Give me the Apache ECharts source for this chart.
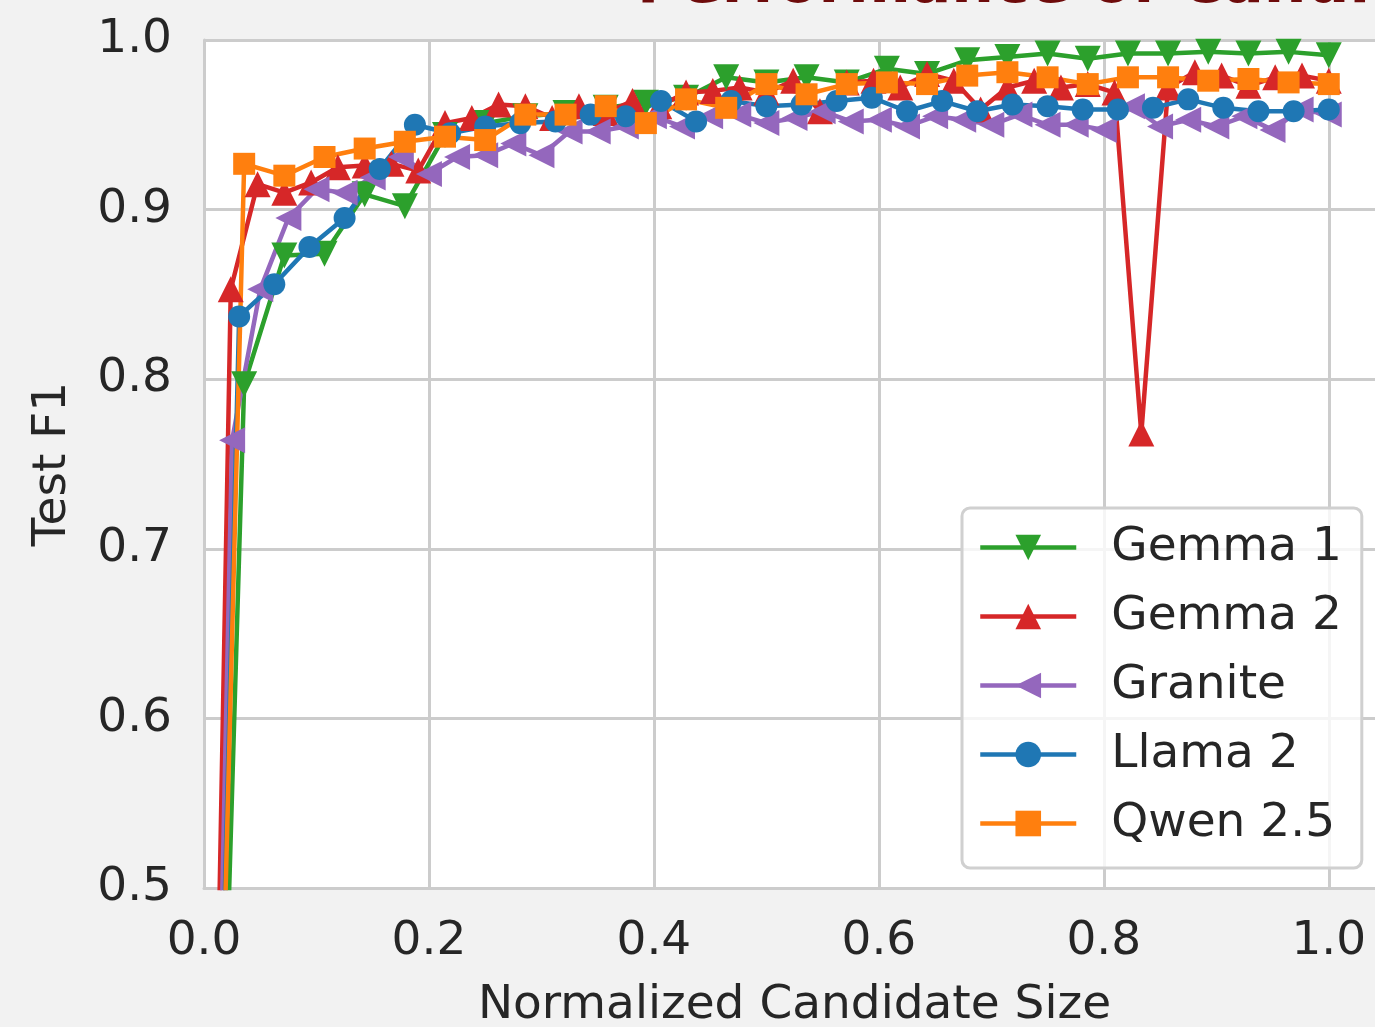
<!DOCTYPE html>
<html>
<head>
<meta charset="utf-8">
<script src="https://cdn.jsdelivr.net/npm/echarts@6/dist/echarts.min.js"></script>
<style>
html,body{margin:0;padding:0;background:#f2f2f2;}
#c{width:1375px;height:1027px;}
</style>
</head>
<body>
<div id="c"></div>
<script>
// Test F1 by normalized candidate size; index i of each list sits at x = i/(n-1)
const seriesNames = ['Gemma 1', 'Gemma 2', 'Granite', 'Llama 2', 'Qwen 2.5'];
const gemma1 = [0.0, 0.797, 0.873, 0.874, 0.909, 0.902, 0.944, 0.951, 0.955, 0.957, 0.960, 0.963, 0.966, 0.978, 0.975, 0.978, 0.975, 0.983, 0.980, 0.988, 0.990, 0.992, 0.989, 0.992, 0.992, 0.993, 0.992, 0.993, 0.991];
const gemma2 = [0.0, 0.853, 0.915, 0.910, 0.916, 0.925, 0.926, 0.927, 0.923, 0.951, 0.954, 0.962, 0.961, 0.954, 0.961, 0.957, 0.964, 0.961, 0.969, 0.970, 0.972, 0.969, 0.976, 0.958, 0.975, 0.976, 0.972, 0.980, 0.976, 0.959, 0.972, 0.976, 0.972, 0.974, 0.969, 0.768, 0.972, 0.981, 0.979, 0.973, 0.978, 0.979, 0.976];
const granite = [0.0, 0.764, 0.853, 0.895, 0.912, 0.910, 0.919, 0.931, 0.921, 0.931, 0.932, 0.939, 0.932, 0.946, 0.946, 0.949, 0.955, 0.949, 0.955, 0.956, 0.951, 0.954, 0.958, 0.952, 0.953, 0.949, 0.955, 0.953, 0.950, 0.956, 0.950, 0.950, 0.947, 0.961, 0.949, 0.953, 0.949, 0.955, 0.947, 0.959, 0.956];
const llama2 = [0.0, 0.837, 0.856, 0.878, 0.895, 0.924, 0.950, 0.945, 0.949, 0.951, 0.952, 0.956, 0.955, 0.964, 0.952, 0.964, 0.961, 0.962, 0.964, 0.966, 0.958, 0.964, 0.958, 0.962, 0.961, 0.959, 0.959, 0.960, 0.965, 0.960, 0.958, 0.958, 0.959];
const qwen25 = [0.0, 0.927, 0.920, 0.931, 0.936, 0.940, 0.943, 0.941, 0.956, 0.956, 0.961, 0.951, 0.965, 0.960, 0.974, 0.968, 0.974, 0.975, 0.974, 0.979, 0.981, 0.978, 0.974, 0.978, 0.978, 0.976, 0.977, 0.975, 0.974];
const xTicks = [0.0, 0.2, 0.4, 0.6, 0.8, 1.0];
const yTicks = [0.5, 0.6, 0.7, 0.8, 0.9, 1.0];
const titleText = 'Performance of Candidate Sizes';
const xLabel = 'Normalized Candidate Size';
const yLabel = 'Test F1';

const colors = ['#2ca02c', '#d62728', '#9467bd', '#1f77b4', '#ff7f0e'];
const symbols = ['path://M0,0L2,0L1,2Z', 'path://M1,0L2,2L0,2Z', 'path://M2,0L2,2L0,1Z', 'circle', 'rect'];
const symSizes = [26, 26, 26, 22, 22];
const allData = [gemma1, gemma2, granite, llama2, qwen25];

function toPairs(arr) {
  const n = arr.length - 1;
  return arr.map((v, i) => [i / n, v]);
}

const FONT = 'DejaVu Sans';
const TXT = '#262626';
const GRID = '#cccccc';

const chart = echarts.init(document.getElementById('c'), null, {renderer: 'canvas'});
chart.setOption({
  backgroundColor: '#f2f2f2',
  animation: false,
  textStyle: {fontFamily: FONT},
  graphic: [{
    type: 'text', left: 637, top: -44, z: 100,
    style: {text: titleText, font: 'bold 60px "DejaVu Sans"', fill: '#6e0b0b'}
  }],
  grid: {left: 204, top: 40, right: -10, bottom: 139, show: true, backgroundColor: '#ffffff', borderWidth: 0,
         outerBoundsMode: 'none', containLabel: false},
  xAxis: {
    type: 'value', min: 0, max: 1.05, interval: 0.2,
    axisLine: {show: true, lineStyle: {color: GRID, width: 3}},
    axisTick: {show: false},
    splitLine: {show: true, lineStyle: {color: GRID, width: 3}},
    axisLabel: {
      fontSize: 47, color: TXT, fontFamily: FONT, margin: 30,
      formatter: v => xTicks.some(t => Math.abs(t - v) < 1e-6) ? v.toFixed(1) : ''
    },
    name: xLabel, nameLocation: 'middle', nameGap: 94,
    nameTextStyle: {fontSize: 47, color: TXT, fontFamily: FONT}
  },
  yAxis: {
    type: 'value', min: 0.5, max: 1.0, interval: 0.1,
    axisLine: {show: true, lineStyle: {color: GRID, width: 3}},
    axisTick: {show: false},
    splitLine: {show: true, lineStyle: {color: GRID, width: 3}},
    axisLabel: {
      fontSize: 47, color: TXT, fontFamily: FONT, margin: 32,
      formatter: v => yTicks.some(t => Math.abs(t - v) < 1e-6) ? v.toFixed(1) : ''
    },
    name: yLabel, nameLocation: 'middle', nameGap: 128, nameRotate: 90,
    nameTextStyle: {fontSize: 47, color: TXT, fontFamily: FONT}
  },
  legend: {
    orient: 'vertical', left: 962, top: 508,
    itemWidth: 96, itemHeight: 32, itemGap: 22,
    padding: [16, 20, 21, 16],
    backgroundColor: 'rgba(255,255,255,0.8)', borderColor: '#d0d0d0', borderWidth: 3, borderRadius: 8,
    lineStyle: {width: 4.5},
    textStyle: {fontSize: 47, color: TXT, fontFamily: FONT, lineHeight: 47, padding: [0, 0, 0, 30]},
    data: seriesNames
  },
  series: seriesNames.map((name, i) => ({
    name: name, type: 'line', data: toPairs(allData[i]),
    symbol: symbols[i], symbolSize: symSizes[i], showAllSymbol: true,
    color: colors[i],
    lineStyle: {width: 4.5, color: colors[i]},
    itemStyle: {color: colors[i], borderWidth: 0},
    clip: true
  }))
});
</script>
</body>
</html>
